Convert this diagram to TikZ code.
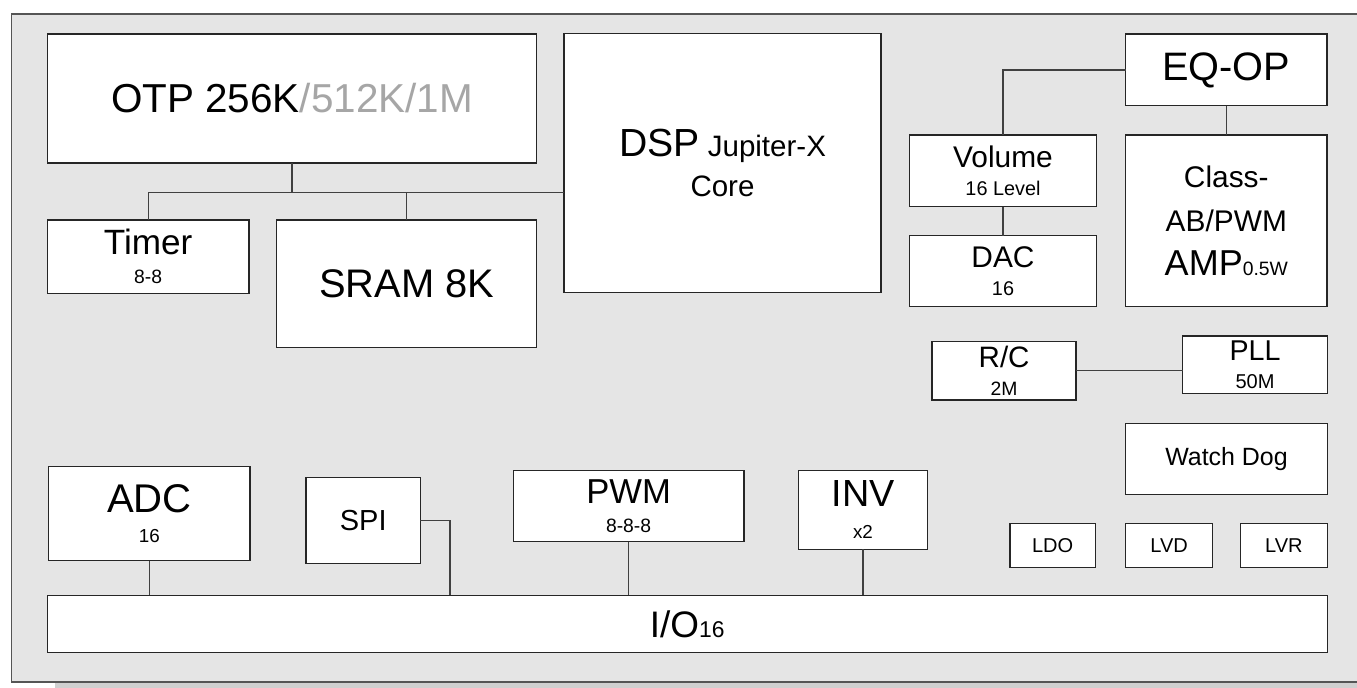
\documentclass[tikz,border=0pt]{standalone}
\usepackage{fontspec}
\setmainfont{Liberation Sans}

\definecolor{framefill}{HTML}{E5E5E5}
\definecolor{frameedge}{HTML}{555555}
\definecolor{shadowgray}{HTML}{D0D0D0}
\definecolor{otpgray}{HTML}{A6A6A6}

\newcommand{\fsz}[2]{\fontsize{#1}{#2}\selectfont}

\tikzset{
  blk/.style={draw=black!85,fill=white,line width=0.75pt,
    inner sep=0pt,outer sep=0pt,align=center},
  wire/.style={draw=black!75,line width=0.7pt}
}

\begin{document}
\begin{tikzpicture}[x=0.2mm,y=-0.2mm]

\useasboundingbox
(0,0)
rectangle
(1357,688);

% chip frame and its shadow
\fill[shadowgray]
(54.5,681.7)
rectangle
(1365,692);

\draw[fill=framefill,draw=frameedge,line width=1.1pt]
(11.5,14)
rectangle
(1365,681.7);

% memory and core
\node[blk,minimum width=97.8mm,minimum height=25.8mm,font=\fsz{23}{26}]
(otp)
at (292,98.5)
{OTP 256K\textcolor{otpgray}{/512K/1M}};

\node[blk,minimum width=63.4mm,minimum height=51.8mm,font=\fsz{16.8}{22.7}]
(dsp)
at (722.5,163.3)
{{\fsz{22.3}{22.7}DSP} Jupiter-X\\Core};

\node[blk,minimum width=40.3mm,minimum height=14.7mm,font=\fsz{20}{16.4}]
(timer)
at (148.2,256.7)
{Timer\\{\fsz{11}{16.4}8-8}};

\node[blk,minimum width=52mm,minimum height=25.5mm,font=\fsz{22.7}{26}]
(sram)
at (406.6,283.8)
{SRAM 8K};

\coordinate
(j1)
at (292,192.3);

\draw[wire]
(otp.south)
--
(j1);

\draw[wire]
(timer.north)
|-
(dsp.west |- j1);

\draw[wire]
(sram.north)
--
(sram.north |- j1);

% audio path
\node[blk,minimum width=40.3mm,minimum height=14.3mm,font=\fsz{22.6}{26}]
(eqop)
at (1226.3,69.9)
{EQ-OP};

\node[blk,minimum width=37.5mm,minimum height=14.3mm,font=\fsz{17}{15.7}]
(vol)
at (1003,170.8)
{Volume\\{\fsz{11.3}{15.7}16 Level}};

\node[blk,minimum width=37.5mm,minimum height=14.2mm,font=\fsz{17}{15.7}]
(dac)
at (1003,271.2)
{DAC\\{\fsz{11.3}{15.7}16}};

\node[blk,minimum width=40.3mm,minimum height=34.3mm,font=\fsz{17}{24.9}]
(amp)
at (1226.3,220.8)
{Class-\\AB/PWM\\{\fsz{20.5}{24.9}AMP}{\fsz{11}{24.9}0.5W}};

\draw[wire]
(eqop.west)
-|
(vol.north);

\draw[wire]
(vol.south)
--
(dac.north);

\draw[wire]
(eqop.south)
--
(amp.north);

% clocks
\node[blk,minimum width=28.8mm,minimum height=11.7mm,font=\fsz{16.8}{16.3}]
(rc)
at (1004.1,370.8)
{R/C\\{\fsz{11}{16.3}2M}};

\node[blk,minimum width=28.9mm,minimum height=11.5mm,font=\fsz{16.3}{16}]
(pll)
at (1255,364.8)
{PLL\\{\fsz{11.4}{16}50M}};

\draw[wire]
(rc.east)
--
(rc.east -| pll.west);

\node[blk,minimum width=40.3mm,minimum height=14.2mm,font=\fsz{14.2}{17}]
(wdog)
at (1226.5,458.8)
{Watch Dog};

% power
\node[blk,minimum width=17.1mm,minimum height=8.7mm,font=\fsz{11.4}{13}]
(ldo)
at (1052.6,545.5)
{LDO};

\node[blk,minimum width=17.4mm,minimum height=8.7mm,font=\fsz{11.4}{13}]
(lvd)
at (1169.2,545.5)
{LVD};

\node[blk,minimum width=17.3mm,minimum height=8.7mm,font=\fsz{11.4}{13}]
(lvr)
at (1283.9,545.5)
{LVR};

% peripherals
\node[blk,minimum width=256mm,minimum height=11.5mm,font=\fsz{21}{24}]
(io)
at (687.2,624)
{I/O{\fsz{13}{24}16}};

\node[blk,minimum width=40.3mm,minimum height=18.9mm,font=\fsz{22.8}{17}]
(adc)
at (149.3,513.5)
{ADC\\{\fsz{10.7}{17}16}};

\node[blk,minimum width=22.9mm,minimum height=17.1mm,font=\fsz{16.5}{20}]
(spi)
at (363.2,520.5)
{SPI};

\node[blk,minimum width=46.1mm,minimum height=14.3mm,font=\fsz{19.7}{16.3}]
(pwm)
at (628.6,506)
{PWM\\{\fsz{11}{16.3}8-8-8}};

\node[blk,minimum width=25.7mm,minimum height=15.8mm,font=\fsz{21.5}{18}]
(inv)
at (863,509.8)
{INV\\{\fsz{10.7}{18}x2}};

\coordinate
(s1)
at (450,520.5);

\draw[wire]
(adc.south)
--
(adc.south |- io.north);

\draw[wire]
(spi.east)
--
(s1)
--
(s1 |- io.north);

\draw[wire]
(pwm.south)
--
(pwm.south |- io.north);

\draw[wire]
(inv.south)
--
(inv.south |- io.north);

\end{tikzpicture}
\end{document}
